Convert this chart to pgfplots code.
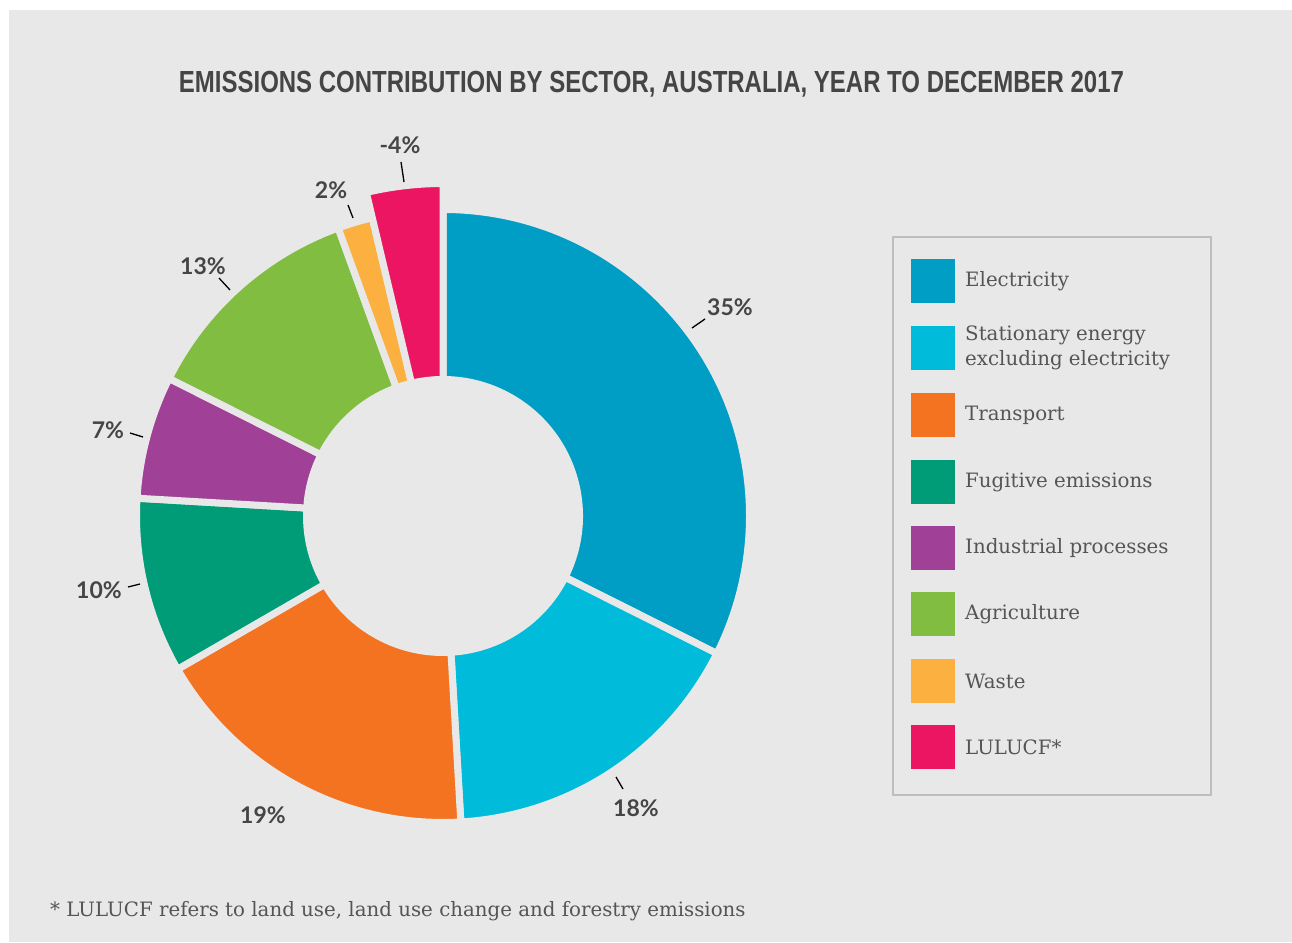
\documentclass[border=0pt]{standalone}
\usepackage{pgfplots}
\pgfplotsset{compat=1.18}
\usepackage{pgfplotstable}
\usepackage{graphicx}
\usepackage{fontspec}
\setmainfont{DejaVu Serif}
\newfontfamily\titlefont{Liberation Sans}
\newfontfamily\labelfont{Lato}

\definecolor{bgc}{HTML}{E8E8E8}
\definecolor{txt}{HTML}{454545}
\definecolor{legtxt}{HTML}{555555}
\definecolor{legborder}{HTML}{BDBDBD}
\definecolor{sec0}{HTML}{009DC5}
\definecolor{sec1}{HTML}{00BCDA}
\definecolor{sec2}{HTML}{F37321}
\definecolor{sec3}{HTML}{009B77}
\definecolor{sec4}{HTML}{A04096}
\definecolor{sec5}{HTML}{80BD41}
\definecolor{sec6}{HTML}{FBB040}
\definecolor{sec7}{HTML}{EC1561}

% share of emissions by sector (per cent); LULUCF is negative
\pgfplotstableread{
idx sector value rout
0 Electricity 35 306.5
1 Stationary 18 306.5
2 Transport 19 306.5
3 Fugitive 10 306.5
4 Industrial 7 306.5
5 Agriculture 13 306.5
6 Waste 2 306.5
7 LULUCF -4 332.5
}\sectors

\gdef\total{0}
\foreach \i in {0,...,7}{%
  \pgfplotstablegetelem{\i}{value}\of\sectors
  \pgfmathparse{\total+abs(\pgfplotsretval)}%
  \xdef\total{\pgfmathresult}%
}
\gdef\cum{0}
\foreach \i in {0,...,7}{%
  \pgfplotstablegetelem{\i}{value}\of\sectors
  \pgfmathsetmacro\myv{abs(\pgfplotsretval)}%
  \pgfmathsetmacro\mya{90-360*(\cum/\total)}%
  \expandafter\xdef\csname aS\i\endcsname{\mya}%
  \pgfmathsetmacro\myc{\cum+\myv}%
  \xdef\cum{\myc}%
  \pgfmathsetmacro\myb{90-360*(\cum/\total)}%
  \expandafter\xdef\csname aE\i\endcsname{\myb}%
  \pgfplotstablegetelem{\i}{rout}\of\sectors
  \expandafter\xdef\csname rO\i\endcsname{\pgfplotsretval}%
}

\begin{document}
\begin{tikzpicture}
\begin{axis}[
  x=1pt, y=1pt,
  xmin=0, xmax=1292, ymin=0, ymax=942,
  hide axis, clip=false,
]
% background
\fill[white] (axis cs:0,0) rectangle (axis cs:1292,942);
\fill[bgc] (axis cs:9,0) rectangle (axis cs:1292,932);

% title
\node[text=txt, anchor=center] at (axis cs:651.5,857.5)
  {\resizebox{945pt}{\height}{\titlefont\bfseries\fontsize{30.5}{30.5}\selectfont EMISSIONS CONTRIBUTION BY SECTOR, AUSTRALIA, YEAR TO DECEMBER 2017}};

% donut sectors
\pgfplotsinvokeforeach{0,...,7}{%
 \filldraw[fill=sec#1, draw=bgc, line width=7pt, line join=miter]
   ([shift={(\csname aS#1\endcsname:136.5pt)}]axis cs:443,426)
   -- ([shift={(\csname aS#1\endcsname:\csname rO#1\endcsname pt)}]axis cs:443,426)
   arc[start angle=\csname aS#1\endcsname, end angle=\csname aE#1\endcsname, radius=\csname rO#1\endcsname pt]
   -- ([shift={(\csname aE#1\endcsname:136.5pt)}]axis cs:443,426)
   arc[start angle=\csname aE#1\endcsname, end angle=\csname aS#1\endcsname, radius=136.5pt]
   -- cycle;
}

% value labels
\tikzset{vlab/.style={text=txt, font=\labelfont\bfseries\fontsize{23}{23}\selectfont, inner sep=0pt}}
\node[vlab] at (axis cs:730,635) {35\%};
\node[vlab] at (axis cs:636,134) {18\%};
\node[vlab] at (axis cs:263,127) {19\%};
\node[vlab] at (axis cs:99,352) {10\%};
\node[vlab] at (axis cs:108,512) {7\%};
\node[vlab] at (axis cs:203,676) {13\%};
\node[vlab] at (axis cs:331,752) {2\%};
\node[vlab] at (axis cs:400,797) {-4\%};
% leader lines
\tikzset{lead/.style={black, line width=1.3pt}}
\draw[lead] (axis cs:692,614) -- (axis cs:705,623);
\draw[lead] (axis cs:616,165) -- (axis cs:623,153);
\draw[lead] (axis cs:128,355) -- (axis cs:140,358);
\draw[lead] (axis cs:130,509) -- (axis cs:143,505);
\draw[lead] (axis cs:219,664) -- (axis cs:230,652);
\draw[lead] (axis cs:348,737) -- (axis cs:353,724);
\draw[lead] (axis cs:401,780) -- (axis cs:404,760);

% legend
\draw[legborder, line width=1.5pt] (axis cs:893,705) rectangle (axis cs:1211,147);
\tikzset{ltxt/.style={text=legtxt, anchor=west, inner sep=0pt, align=left,
   font=\fontsize{19.8}{25.5}\selectfont}}
\fill[sec0] (axis cs:911,639) rectangle (axis cs:955,683);
\node[ltxt] at (axis cs:965,661) {Electricity};
\fill[sec1] (axis cs:911,572) rectangle (axis cs:955,616);
\node[ltxt] at (axis cs:965,594) {Stationary energy\\excluding electricity};
\fill[sec2] (axis cs:911,505) rectangle (axis cs:955,549);
\node[ltxt] at (axis cs:965,527) {Transport};
\fill[sec3] (axis cs:911,438) rectangle (axis cs:955,482);
\node[ltxt] at (axis cs:965,460) {Fugitive emissions};
\fill[sec4] (axis cs:911,372) rectangle (axis cs:955,416);
\node[ltxt] at (axis cs:965,394) {Industrial processes};
\fill[sec5] (axis cs:911,306) rectangle (axis cs:955,350);
\node[ltxt] at (axis cs:965,328) {Agriculture};
\fill[sec6] (axis cs:911,239) rectangle (axis cs:955,283);
\node[ltxt] at (axis cs:965,261) {Waste};
\fill[sec7] (axis cs:911,173) rectangle (axis cs:955,217);
\node[ltxt] at (axis cs:965,195) {LULUCF*};

% footnote
\node[ltxt] at (axis cs:50,31) {* LULUCF refers to land use, land use change and forestry emissions};
\end{axis}
\end{tikzpicture}
\end{document}
